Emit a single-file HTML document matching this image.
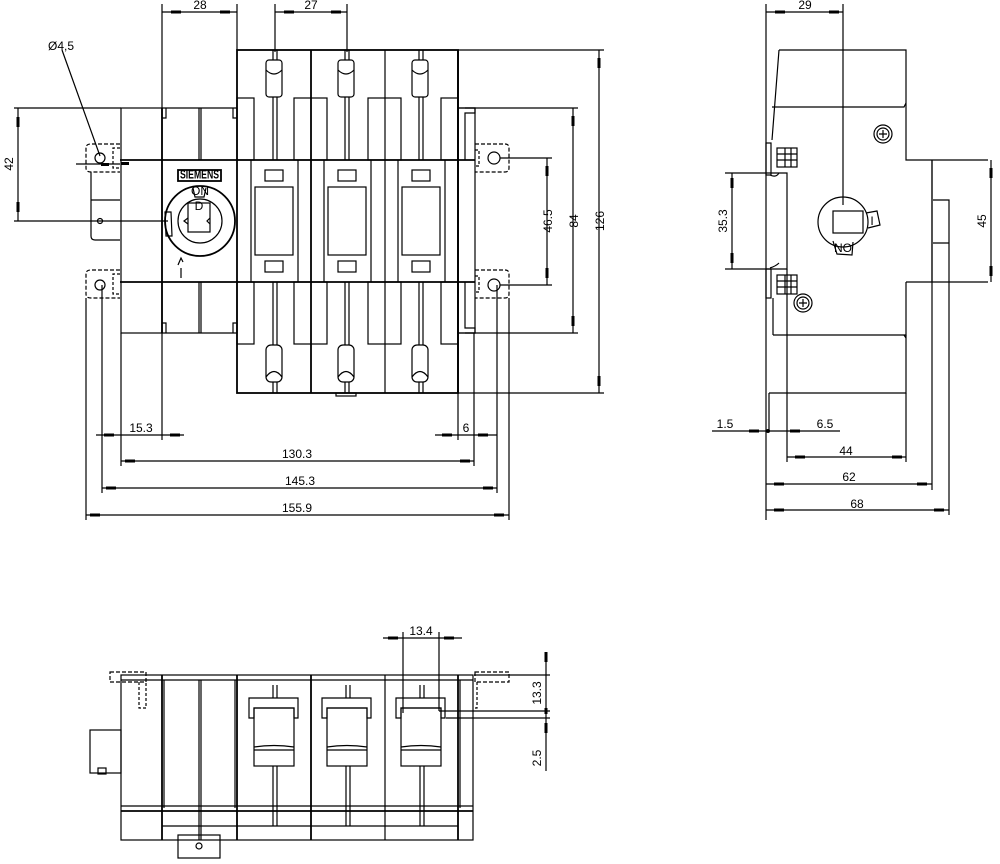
<!DOCTYPE html>
<html><head><meta charset="utf-8"><style>
html,body{margin:0;padding:0;background:#fff;}
svg{display:block}
text{font-family:"Liberation Sans",sans-serif;font-size:12px;fill:#000}
</style></head><body>
<svg width="1000" height="864" viewBox="0 0 1000 864" xmlns="http://www.w3.org/2000/svg">
<g fill="none" stroke="#000" stroke-width="1.2">

<!-- ================= FRONT VIEW ================= -->
<line x1="162" y1="4" x2="162" y2="108"/>
<line x1="237" y1="4" x2="237" y2="50"/>
<line x1="162" y1="12" x2="237" y2="12"/>
<line x1="275" y1="4" x2="275" y2="52"/>
<line x1="347" y1="4" x2="347" y2="52"/>
<line x1="275" y1="12" x2="347" y2="12"/>

<rect x="237" y="50" width="221" height="343" stroke-width="1.8"/>
<line x1="311" y1="50" x2="311" y2="393" stroke-width="1.8"/>
<line x1="385" y1="50" x2="385" y2="393"/>
<line x1="458" y1="50" x2="458" y2="393" stroke-width="1.8"/>
<line x1="120" y1="160" x2="475" y2="160" stroke-width="1.8"/>
<line x1="120" y1="282" x2="475" y2="282" stroke-width="1.8"/>
<rect x="121" y="108" width="41" height="225"/>
<line x1="162" y1="108" x2="162" y2="333" stroke-width="1.8"/>
<line x1="162" y1="108" x2="237" y2="108"/>
<line x1="162" y1="333" x2="237" y2="333"/>
<path d="M162 108 V118 H166 V108 M237 108 V118 H233 V108 M199 108 V160 M201 108 V160"/>
<path d="M162 333 V323 H166 V333 M237 333 V323 H233 V333 M199 282 V333 M201 282 V333"/>
<rect x="458" y="108" width="17" height="225"/>
<path d="M458 108 H475 V113 H465 V160 M458 333 H475 V328 H465 V282"/>

<rect x="237" y="98" width="17" height="62"/>
<rect x="294" y="98" width="33" height="62"/>
<rect x="368" y="98" width="33" height="62"/>
<rect x="441" y="98" width="17" height="62"/>
<rect x="237" y="282" width="17" height="62"/>
<rect x="294" y="282" width="33" height="62"/>
<rect x="368" y="282" width="33" height="62"/>
<rect x="441" y="282" width="17" height="62"/>

<g id="termT">
<rect x="266" y="60" width="16" height="37" rx="3"/>
<path d="M266 70 Q274 78 282 70"/>
<line x1="273" y1="50" x2="273" y2="60"/><line x1="277" y1="50" x2="277" y2="60"/>
<line x1="273" y1="97" x2="273" y2="160"/><line x1="277" y1="97" x2="277" y2="160"/>
</g>
<use href="#termT" x="72"/><use href="#termT" x="146"/>
<g id="termB">
<rect x="266" y="345" width="16" height="37" rx="5"/>
<path d="M266 377 Q274 366 282 377"/>
<line x1="273" y1="282" x2="273" y2="345"/><line x1="277" y1="282" x2="277" y2="345"/>
<line x1="273" y1="382" x2="273" y2="393"/><line x1="277" y1="382" x2="277" y2="393"/>
</g>
<use href="#termB" x="72"/><use href="#termB" x="146"/>
<rect x="336" y="393" width="20" height="3"/>

<g id="win">
<line x1="251" y1="160" x2="251" y2="282"/>
<line x1="298" y1="160" x2="298" y2="282"/>
<rect x="255" y="187" width="38" height="68"/>
<rect x="265" y="170" width="18" height="11"/>
<rect x="265" y="261" width="18" height="11"/>
</g>
<use href="#win" x="73"/><use href="#win" x="147"/>

<rect x="178" y="170" width="43" height="11" stroke-width="1.8"/>
<text x="199.5" y="178.5" font-size="6" textLength="39" lengthAdjust="spacingAndGlyphs" text-anchor="middle" stroke="none" font-weight="bold">SIEMENS</text>
<circle cx="200" cy="221" r="35" stroke-width="1.8"/>
<circle cx="200" cy="221" r="22"/>
<rect x="188" y="203" width="22" height="29"/>
<text x="199" y="210" font-size="7" text-anchor="middle" stroke="none">D</text>
<path d="M193 188 L195 197 H204 L206 188"/>
<text x="200" y="195" font-size="6" text-anchor="middle" stroke="none">ON</text>
<path d="M188 218 L184 221 L188 224 M210 218 L207 221 L210 224"/>
<path d="M165 212 L171 212 L172 236 L166 236 Z"/>
<path d="M178 265 L181 258 L183 262 M181 268 V278"/>
<path d="M120 144 H91 Q86 144 86 148 V168 Q86 172 91 172 H120" stroke-dasharray="4 2"/>
<circle cx="100" cy="158" r="5"/>
<path d="M120 148 H113 V168 H120" stroke-dasharray="3 2"/>
<path d="M91 172 V236 Q91 240 95 240 H120 M91 200 H120"/>
<circle cx="100" cy="221" r="2.5"/>
<path d="M120 270 H91 Q86 270 86 274 V294 Q86 298 91 298 H120" stroke-dasharray="4 2"/>
<circle cx="100" cy="285" r="5"/>
<path d="M120 274 H113 V294 H120" stroke-dasharray="3 2"/>
<path d="M475 144 H505 Q509 144 509 148 V168 Q509 172 505 172 H475" stroke-dasharray="4 2"/>
<circle cx="494" cy="158" r="6"/>
<path d="M475 150 H479 V166 H475" stroke-dasharray="3 2"/>
<path d="M475 270 H505 Q509 270 509 274 V294 Q509 298 505 298 H475" stroke-dasharray="4 2"/>
<circle cx="494" cy="285" r="6"/>
<path d="M475 276 H479 V292 H475" stroke-dasharray="3 2"/>

<line x1="14" y1="108" x2="121" y2="108"/>
<line x1="14" y1="221" x2="168" y2="221"/>
<line x1="18" y1="108" x2="18" y2="221"/>
<line x1="76" y1="164" x2="120" y2="164"/>
<line x1="62" y1="50" x2="100" y2="156"/>

<line x1="458" y1="50" x2="604" y2="50"/>
<line x1="458" y1="393" x2="604" y2="393"/>
<line x1="599" y1="50" x2="599" y2="393"/>
<line x1="465" y1="108" x2="578" y2="108"/>
<line x1="465" y1="333" x2="578" y2="333"/>
<line x1="573" y1="108" x2="573" y2="333"/>
<line x1="500" y1="158" x2="552" y2="158"/>
<line x1="500" y1="285" x2="552" y2="285"/>
<line x1="547" y1="158" x2="547" y2="285"/>

<line x1="86" y1="298" x2="86" y2="520"/>
<line x1="102" y1="285" x2="102" y2="493"/>
<line x1="121" y1="333" x2="121" y2="466"/>
<line x1="162" y1="333" x2="162" y2="440"/>
<line x1="458" y1="393" x2="458" y2="440"/>
<line x1="474" y1="333" x2="474" y2="466"/>
<line x1="497" y1="285" x2="497" y2="493"/>
<line x1="509" y1="298" x2="509" y2="520"/>
<line x1="96" y1="435" x2="184" y2="435"/>
<line x1="435" y1="435" x2="497" y2="435"/>
<line x1="121" y1="461" x2="474" y2="461"/>
<line x1="102" y1="488" x2="497" y2="488"/>
<line x1="86" y1="515" x2="509" y2="515"/>

<!-- ================= SIDE VIEW ================= -->
<line x1="766" y1="4" x2="766" y2="520"/>
<line x1="766" y1="12" x2="843" y2="12"/>
<line x1="843" y1="4" x2="843" y2="205"/>
<path d="M779 50 H906 V160 H988 M932 160 V282 M906 282 H988 M906 282 V335 H773 M779 50 L772 140"/>
<path d="M772 107 H904 L906 103 M904 335 L906 338"/>
<path d="M906 335 V393 H769 M773 298 V335"/>
<path d="M725 173 H787 V269 H725"/>
<rect x="766" y="143" width="5" height="32"/>
<rect x="766" y="269" width="5" height="29"/>
<path d="M770 175 Q776 178 779 173 M770 268 Q776 266 779 263"/>
<rect x="777" y="148" width="20" height="19"/><path d="M777 154 H797 M777 160 H797 M785 148 V167 M791 148 V167"/>
<rect x="777" y="275" width="20" height="19"/><path d="M777 281 H797 M777 287 H797 M785 275 V294 M791 275 V294"/>
<circle cx="883" cy="134" r="9"/><circle cx="883" cy="134" r="6"/><path d="M879 134 H887 M883 130 V138"/>
<circle cx="803" cy="303" r="9"/><circle cx="803" cy="303" r="6"/><path d="M799 303 H807 M803 299 V307"/>
<circle cx="843" cy="222" r="25"/>
<rect x="833" y="211" width="30" height="22"/>
<path d="M866 213 L877 211 L880 225 L868 228 M833 241 L837 254 L852 255 L853 242"/>
<text x="872" y="225" font-size="9" text-anchor="middle" stroke="none">I</text>
<text x="843" y="252" font-size="7" text-anchor="middle" stroke="none">NO</text>
<path d="M932 160 V490 M933 200 H949 V515 M933 243 H949"/>
<line x1="732" y1="173" x2="732" y2="269"/>
<line x1="991" y1="160" x2="991" y2="282"/>
<line x1="712" y1="431" x2="840" y2="431"/>
<line x1="769" y1="393" x2="769" y2="431"/>
<line x1="787" y1="269" x2="787" y2="462"/>
<line x1="906" y1="393" x2="906" y2="462"/>
<line x1="787" y1="457" x2="906" y2="457"/>
<line x1="766" y1="484" x2="932" y2="484"/>
<line x1="766" y1="510" x2="949" y2="510"/>

<!-- ================= BOTTOM VIEW ================= -->
<rect x="121" y="675" width="352" height="165"/>
<line x1="162" y1="675" x2="162" y2="840" stroke-width="1.8"/>
<line x1="237" y1="675" x2="237" y2="840" stroke-width="1.8"/>
<line x1="311" y1="675" x2="311" y2="840" stroke-width="1.8"/>
<line x1="385" y1="675" x2="385" y2="840"/>
<line x1="458" y1="675" x2="458" y2="840" stroke-width="1.8"/>
<line x1="121" y1="680" x2="473" y2="680"/>
<line x1="121" y1="806" x2="473" y2="806"/>
<line x1="121" y1="811" x2="473" y2="811" stroke-width="1.8"/>
<line x1="162" y1="826" x2="458" y2="826"/>
<path d="M164 680 V808 M199 680 V840 M201 680 V840 M235 680 V808 M460 680 V808"/>
<rect x="90" y="730" width="31" height="43"/>
<rect x="98" y="768" width="8" height="6"/>
<rect x="178" y="835" width="42" height="23"/>
<circle cx="199" cy="846" r="3"/>
<rect x="110" y="672" width="36" height="10" stroke-dasharray="4 2"/>
<rect x="475" y="672" width="34" height="10" stroke-dasharray="4 2"/>
<path d="M139 682 V708 H146 V682" stroke-dasharray="3 2"/>
<path d="M477 682 V708 H473" stroke-dasharray="3 2"/>
<g id="pb">
<line x1="273" y1="685" x2="273" y2="698"/><line x1="277" y1="685" x2="277" y2="698"/>
<line x1="273" y1="766" x2="273" y2="826"/><line x1="277" y1="766" x2="277" y2="826"/>
<path d="M249 718 V698 H298 V718 H294 V708 H254 V718 Z"/>
<rect x="254" y="708" width="40" height="58"/>
<path d="M254 747 Q274 744 294 747 M254 750 H294"/>
</g>
<use href="#pb" x="73"/><use href="#pb" x="147"/>
<line x1="383" y1="638" x2="462" y2="638"/>
<line x1="403" y1="632" x2="403" y2="713"/>
<line x1="439" y1="632" x2="439" y2="711"/>
<line x1="474" y1="675" x2="550" y2="675"/>
<line x1="439" y1="711" x2="550" y2="711"/>
<line x1="446" y1="718" x2="550" y2="718"/>
<line x1="546" y1="652" x2="546" y2="771"/>
</g>

<g fill="#000">
<rect x="171" y="10.5" width="10" height="3"/><rect x="220" y="10.5" width="10" height="3"/>
<rect x="284" y="10.5" width="10" height="3"/><rect x="331" y="10.5" width="10" height="3"/>
<rect x="16.5" y="117" width="3" height="10"/><rect x="16.5" y="202" width="3" height="10"/>
<rect x="597.5" y="58" width="3" height="10"/><rect x="597.5" y="376" width="3" height="10"/>
<rect x="571.5" y="116" width="3" height="10"/><rect x="571.5" y="316" width="3" height="10"/>
<rect x="545.5" y="166" width="3" height="10"/><rect x="545.5" y="268" width="3" height="10"/>
<rect x="104" y="433.5" width="10" height="3"/><rect x="170" y="433.5" width="10" height="3"/>
<rect x="442" y="433.5" width="10" height="3"/><rect x="478" y="433.5" width="10" height="3"/>
<rect x="125" y="459.5" width="10" height="3"/><rect x="460" y="459.5" width="10" height="3"/>
<rect x="106" y="486.5" width="10" height="3"/><rect x="483" y="486.5" width="10" height="3"/>
<rect x="90" y="513.5" width="10" height="3"/><rect x="494" y="513.5" width="10" height="3"/>
<rect x="101" y="163" width="8" height="3"/><rect x="121" y="162" width="8" height="3"/>
<rect x="775" y="10.5" width="10" height="3"/><rect x="829" y="10.5" width="10" height="3"/>
<rect x="730.5" y="178" width="3" height="10"/><rect x="730.5" y="253" width="3" height="10"/>
<rect x="989.5" y="168" width="3" height="10"/><rect x="989.5" y="266" width="3" height="10"/>
<rect x="749" y="429.5" width="10" height="3"/><rect x="790" y="429.5" width="10" height="3"/><circle cx="768" cy="431" r="2"/>
<rect x="795" y="455.5" width="10" height="3"/><rect x="892" y="455.5" width="10" height="3"/>
<rect x="774" y="482.5" width="10" height="3"/><rect x="917" y="482.5" width="10" height="3"/>
<rect x="774" y="508.5" width="10" height="3"/><rect x="934" y="508.5" width="10" height="3"/>
<rect x="388" y="636.5" width="10" height="3"/><rect x="444" y="636.5" width="10" height="3"/>
<rect x="544.5" y="652" width="3" height="10"/><rect x="544.5" y="708" width="3" height="6"/><rect x="544.5" y="723" width="3" height="10"/>
</g>

<text x="200" y="9" text-anchor="middle">28</text>
<text x="311" y="9" text-anchor="middle">27</text>
<text x="48" y="50">Ø4,5</text>
<text transform="translate(13,164) rotate(-90)" text-anchor="middle">42</text>
<text transform="translate(604,221) rotate(-90)" text-anchor="middle">126</text>
<text transform="translate(578,221) rotate(-90)" text-anchor="middle">84</text>
<text transform="translate(552,221) rotate(-90)" text-anchor="middle">46.5</text>
<text x="141" y="432" text-anchor="middle">15.3</text>
<text x="466" y="432" text-anchor="middle">6</text>
<text x="297" y="458" text-anchor="middle">130.3</text>
<text x="300" y="485" text-anchor="middle">145.3</text>
<text x="297" y="512" text-anchor="middle">155.9</text>
<text x="805" y="9" text-anchor="middle">29</text>
<text transform="translate(727,221) rotate(-90)" text-anchor="middle">35.3</text>
<text transform="translate(986,221) rotate(-90)" text-anchor="middle">45</text>
<text x="725" y="428" text-anchor="middle">1.5</text>
<text x="825" y="428" text-anchor="middle">6.5</text>
<text x="846" y="455" text-anchor="middle">44</text>
<text x="849" y="481" text-anchor="middle">62</text>
<text x="857" y="508" text-anchor="middle">68</text>
<text x="421" y="635" text-anchor="middle">13.4</text>
<text transform="translate(541,693) rotate(-90)" text-anchor="middle">13.3</text>
<text transform="translate(541,758) rotate(-90)" text-anchor="middle">2.5</text>
</svg>
</body></html>
